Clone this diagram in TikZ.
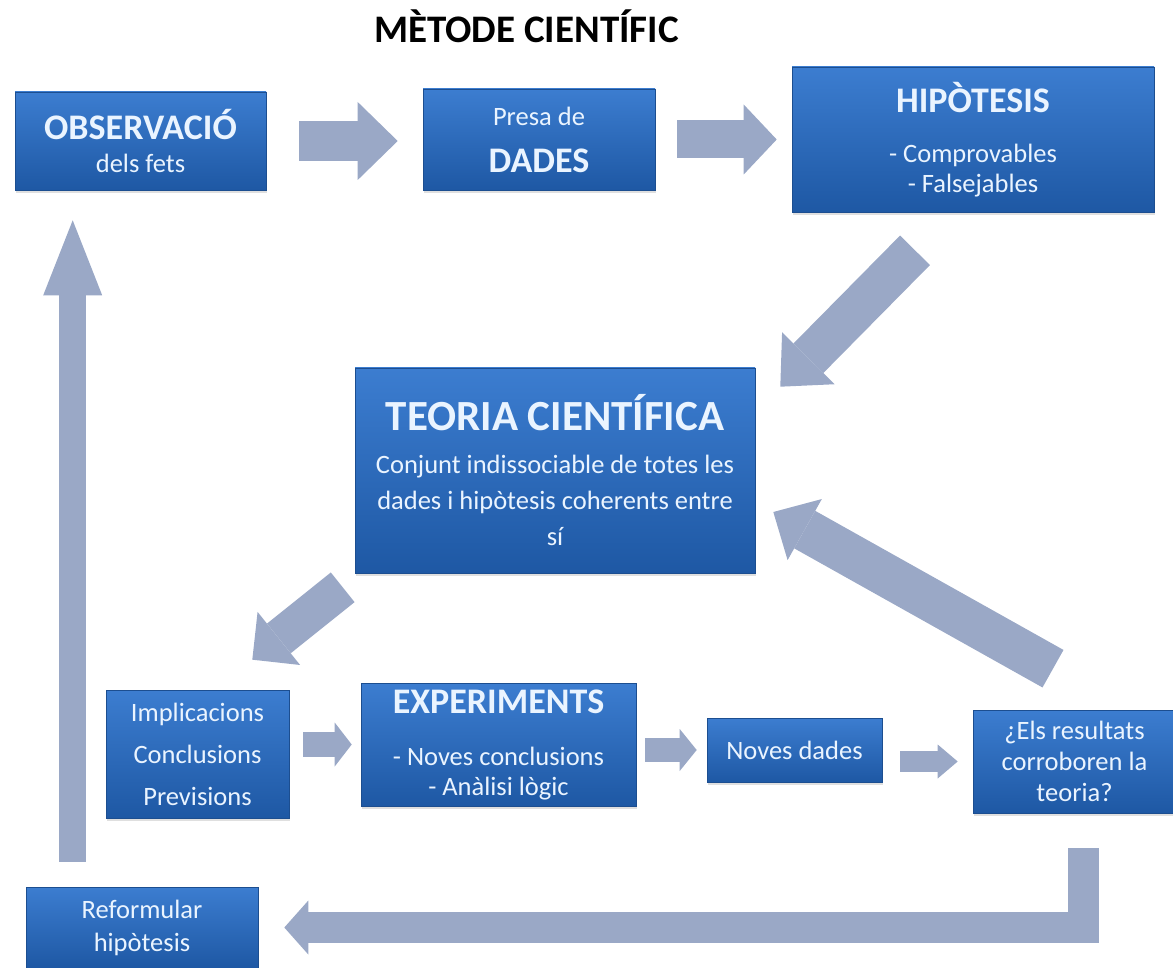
\documentclass[tikz,border=0pt]{standalone}
\usepackage{fontspec}
\setmainfont{Carlito}
\usepackage{tikz}
\usepackage{xcolor}
\usetikzlibrary{positioning, arrows.meta, shadows}

\definecolor{boxtop}{HTML}{3C7DD0}
\definecolor{boxbot}{HTML}{1E58A4}
\definecolor{boxedge}{HTML}{1C4E90}
\definecolor{flowc}{HTML}{9AA8C6}
\definecolor{txtc}{HTML}{EAF4FF}

\newcommand{\headtxt}{\fontsize{36}{40}\selectfont\bfseries}
\newcommand{\bodytxt}{\fontsize{26.5}{33}\selectfont}

\begin{document}
\begin{tikzpicture}[x=1pt, y=1pt,
        box/.style={rectangle, draw=boxedge, line width=0.6pt, top color=boxtop, bottom color=boxbot,
            text=txtc, align=center, inner sep=0pt, font=\bodytxt,
            drop shadow={opacity=0.25, shadow xshift=1pt, shadow yshift=-3pt}},
        flow/.style n args={3}{draw=flowc, line width=#1, -{Triangle[width=#2, length=#3, line width=0pt]}}]
                \useasboundingbox (0,0) rectangle (1173,-968);

                \node[anchor=base, font=\fontsize{39}{44}\selectfont\bfseries] (title) at (526.5,-43) {MÈTODE CIENTÍFIC};

                \node[box, minimum width=251pt, minimum height=98pt] (obs) at (140.5,-141) {{\headtxt OBSERVACIÓ}\\dels fets};
                \node[box, minimum width=232pt, minimum height=101pt] (dad) at (539,-139.5) {Presa de\\[14pt]{\headtxt DADES}};
                \node[box, minimum width=362pt, minimum height=145pt] (hip) at (973,-139.5) {{\headtxt HIPÒTESIS}\\[17pt]- Comprovables\\[-3pt]- Falsejables};
                \node[box, minimum width=400pt, minimum height=205pt] (teo) at (555,-470.5) {{\fontsize{43}{48}\selectfont\bfseries TEORIA CIENTÍFICA}\\[10pt]Conjunt indissociable de totes les\\[3pt]dades i hipòtesis coherents entre\\[3pt]sí};
                \node[box, minimum width=183pt, minimum height=128pt] (imp) at (197.5,-754) {Implicacions\\[9pt]Conclusions\\[9pt]Previsions};
                \node[box, minimum width=275pt, minimum height=123pt] (exp) at (498.5,-744.5) {{\headtxt EXPERIMENTS}\\[19pt]- Noves conclusions\\[-3pt]- Anàlisi lògic};
                \node[box, minimum width=175pt, minimum height=64pt] (nov) at (794.5,-750) {Noves dades};
                \node[box, minimum width=203pt, minimum height=103pt] (res) at (1074.5,-761.5) {¿Els resultats\\[-2pt]corroboren la\\[-2pt]teoria?};
                \node[box, minimum width=232pt, minimum height=81pt] (ref) at (142,-927.5) {Reformular\\hipòtesis};

                \draw[flow={40pt}{78pt}{40pt}] ([xshift=33pt]obs.east) -- ([xshift=-25pt]obs.east -| dad.west);
                \draw[flow={38pt}{70pt}{33pt}] ([xshift=22pt]dad.east) -- ([xshift=-15pt]hip.west);
                \draw[flow={42pt}{74pt}{40pt}] ([shift={(-58pt,-38pt)}]hip.south) -- ([shift={(25pt,-19pt)}]teo.north east);
                \draw[flow={38pt}{68pt}{34pt}] ([shift={(-12pt,-14pt)}]teo.south west) -- ([shift={(-37pt,30pt)}]imp.north east);
                \draw[flow={25pt}{44pt}{17pt}] ([xshift=14pt]exp.west -| imp.east) -- ([xshift=-9pt]exp.west);
                \draw[flow={24pt}{42pt}{17pt}] ([xshift=9pt]nov.west -| exp.east) -- ([xshift=-10pt]nov.west);
                \draw[flow={21pt}{34pt}{20pt}] ([xshift=18pt]res.west -| nov.east) -- ([xshift=-15pt]res.west);
                \draw[flow={43pt}{70pt}{36pt}] ([shift={(-21.5pt,41pt)}]res.north) -- ([shift={(18pt,-41.5pt)}]teo.east);
                \draw[flow={31pt}{54pt}{24pt}, line join=miter] ([shift={(8.5pt,-35pt)}]res.south) |- ([xshift=26pt]ref.east);
                \draw[flow={27pt}{59pt}{75pt}] ([shift={(47pt,25pt)}]ref.north west) -- ([shift={(47pt,-30pt)}]ref.north west |- obs.south);
\end{tikzpicture}
\end{document}
